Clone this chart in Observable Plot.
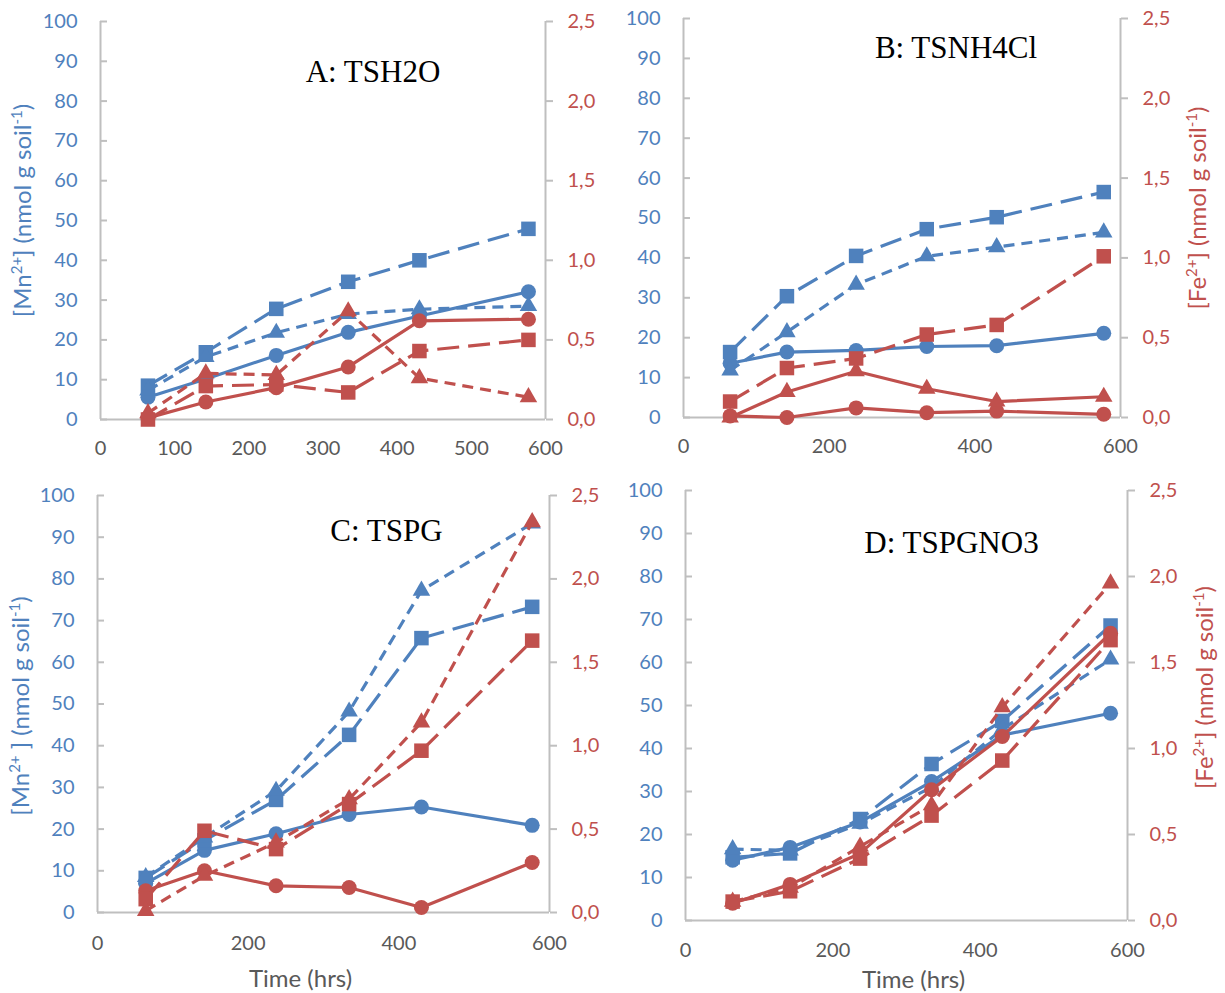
<!DOCTYPE html>
<html>
<head>
<meta charset="utf-8">
<script src="https://cdn.jsdelivr.net/npm/d3@7"></script>
<script src="https://cdn.jsdelivr.net/npm/@observablehq/plot@0.6"></script>
<style>
  html, body { margin: 0; padding: 0; background: #fff; }
  #wrap { position: relative; width: 1225px; height: 993px; overflow: hidden; background: #fff; }
  .pane { position: absolute; }
</style>
</head>
<body>
<div id="wrap"></div>
<script>
// ---------------- data ----------------
const hours = [64, 142, 237, 334, 430, 577];
const titles = ["A: TSH2O", "B: TSNH4Cl", "C: TSPG", "D: TSPGNO3"];
const xTicksA = [0, 100, 200, 300, 400, 500, 600];
const xTicksBCD = [0, 200, 400, 600];
const mnTicks = [0, 10, 20, 30, 40, 50, 60, 70, 80, 90, 100];
const feTicks = [0, 0.5, 1.0, 1.5, 2.0, 2.5];

// Panel A (TSH2O)
const A_mn_circle   = [5.6, 10.2, 16.1, 21.9, 26.0, 32.1];
const A_mn_square   = [8.5, 16.9, 27.8, 34.6, 40.0, 47.9];
const A_mn_triangle = [7.3, 15.7, 21.8, 26.5, 27.7, 28.5];
const A_fe_circle   = [0.01, 0.11, 0.20, 0.33, 0.62, 0.63];
const A_fe_square   = [0.00, 0.21, 0.22, 0.17, 0.43, 0.50];
const A_fe_triangle = [0.04, 0.29, 0.28, 0.68, 0.26, 0.14];

// Panel B (TSNH4Cl)
const B_mn_circle   = [13.6, 16.4, 16.8, 17.8, 18.0, 21.1];
const B_mn_square   = [16.4, 30.4, 40.5, 47.2, 50.2, 56.5];
const B_mn_triangle = [11.8, 21.4, 33.3, 40.4, 42.7, 46.4];
const B_fe_circle   = [0.01, 0.00, 0.06, 0.03, 0.04, 0.02];
const B_fe_square   = [0.10, 0.31, 0.37, 0.52, 0.58, 1.01];
const B_fe_triangle = [0.00, 0.16, 0.29, 0.18, 0.10, 0.13];

// Panel C (TSPG)
const C_mn_circle   = [7.0, 14.9, 18.9, 23.5, 25.3, 20.9];
const C_mn_square   = [8.3, 17.3, 27.0, 42.6, 65.8, 73.3];
const C_mn_triangle = [8.5, 18.0, 29.2, 48.2, 77.2, 93.3];
const C_fe_circle   = [0.13, 0.25, 0.16, 0.15, 0.03, 0.30];
const C_fe_square   = [0.08, 0.49, 0.38, 0.65, 0.97, 1.63];
const C_fe_triangle = [0.01, 0.22, 0.42, 0.68, 1.14, 2.34];

// Panel D (TSPGNO3)
const D_mn_circle   = [14.0, 17.0, 22.9, 32.3, 43.1, 48.2];
const D_mn_square   = [14.7, 15.6, 23.6, 36.4, 46.4, 68.6];
const D_mn_triangle = [16.6, 16.3, 22.5, 31.0, 44.5, 60.7];
const D_fe_circle   = [0.10, 0.21, 0.39, 0.76, 1.07, 1.67];
const D_fe_square   = [0.11, 0.17, 0.36, 0.61, 0.93, 1.63];
const D_fe_triangle = [0.11, 0.19, 0.43, 0.67, 1.24, 1.96];

const mnLabel = "[Mn^{2+}] (nmol g soil^{-1})";
const mnLabelC = "[Mn^{2+} ] (nmol g soil^{-1})";
const feLabel = "[Fe^{2+}] (nmol g soil^{-1})";
const timeLabel = "Time (hrs)";

// ---------------- styling ----------------
const BLUE = "#4F81BD", RED = "#C0504D", GREY = "#BFBFBF", TXT = "#595959";
const FE_K = 40; // secondary axis: 2.5 Fe  <->  100 Mn
const SANS = "Lato, 'Open Sans', sans-serif";
const DASHES = { solid: null, long: "22,9", short: "11,7" };
const RADIUS = { circle: 7.5, square: 8.2, triangle: 6.5 };

function series(values, k, color, symbol, dash) {
  const rows = hours.map((h, i) => ({ h, v: values[i] * k }));
  return [
    Plot.line(rows, { x: "h", y: "v", stroke: color, strokeWidth: 3.2,
      strokeDasharray: DASHES[dash], strokeLinecap: "butt", strokeLinejoin: "round" }),
    Plot.dot(rows, { x: "h", y: "v", fill: color, stroke: "none", symbol, r: RADIUS[symbol] })
  ];
}

function panel(cfg) {
  const feTriDash = cfg.feTriDash || "short";
  const marks = [
    Plot.ruleX([0], { stroke: GREY, strokeWidth: 2 }),
    Plot.ruleX([600], { stroke: GREY, strokeWidth: 2 }),
    Plot.ruleY([0], { stroke: GREY, strokeWidth: 2 }),
    Plot.axisY({ anchor: "left", ticks: mnTicks, tickSize: -7, tickPadding: 30,
      stroke: GREY, strokeWidth: 2, fill: BLUE, fontSize: 20, label: null }),
    Plot.axisY({ anchor: "right", ticks: feTicks.map(v => v * FE_K), tickSize: 7, tickPadding: 15,
      tickFormat: d => (d / FE_K).toFixed(1).replace(".", ","),
      stroke: GREY, strokeWidth: 2, fill: RED, fontSize: 20, label: null }),
    Plot.axisX({ ticks: cfg.xTicks, tickSize: 0, tickPadding: cfg.xPad,
      fill: TXT, fontSize: 20, label: null }),
    ...series(cfg.mn[0], 1, BLUE, "circle", "solid"),
    ...series(cfg.mn[1], 1, BLUE, "square", "long"),
    ...series(cfg.mn[2], 1, BLUE, "triangle", "short"),
    ...series(cfg.fe[0], FE_K, RED, "circle", "solid"),
    ...series(cfg.fe[1], FE_K, RED, "square", "long"),
    ...series(cfg.fe[2], FE_K, RED, "triangle", feTriDash),
    Plot.text([cfg.title], { frameAnchor: "top", dx: cfg.tdx, dy: cfg.tdy,
      textAnchor: "middle", lineAnchor: "middle",
      fontFamily: "'Liberation Serif', 'Times New Roman', serif", fontSize: 31, fill: "#000" })
  ];
  if (cfg.left) marks.push(Plot.text([cfg.left.text], { frameAnchor: "left", dx: cfg.left.dx, dy: cfg.left.dy,
      rotate: -90, textAnchor: "middle", lineAnchor: "middle", fill: BLUE, fontSize: 24 }));
  if (cfg.right) marks.push(Plot.text([cfg.right.text], { frameAnchor: "right", dx: cfg.right.dx, dy: cfg.right.dy,
      rotate: -90, textAnchor: "middle", lineAnchor: "middle", fill: RED, fontSize: 24 }));
  if (cfg.time) marks.push(Plot.text([timeLabel], { frameAnchor: "bottom", dx: cfg.time.dx, dy: cfg.time.dy,
      textAnchor: "middle", lineAnchor: "middle", fill: TXT, fontSize: 24 }));

  const svg = Plot.plot({
    width: cfg.w, height: cfg.h,
    marginLeft: cfg.mL, marginRight: cfg.mR, marginTop: cfg.mT, marginBottom: cfg.mB,
    style: { fontFamily: SANS, fontSize: "20px", background: "transparent", overflow: "visible" },
    x: { domain: [0, 600] },
    y: { domain: [0, 100] },
    marks
  });
  richText(svg);
  const div = document.createElement("div");
  div.className = "pane";
  div.style.left = cfg.left0 + "px";
  div.style.top = cfg.top0 + "px";
  div.appendChild(svg);
  document.getElementById("wrap").appendChild(div);
}

// turn "^{...}" markup into superscript tspans
function richText(svg) {
  svg.querySelectorAll("text").forEach(t => {
    const s = t.textContent;
    if (!s.includes("^{")) return;
    const parts = s.split(/\^\{([^}]*)\}/);
    t.textContent = "";
    let raised = false;
    parts.forEach((p, i) => {
      if (p === "") { return; }
      const ts = document.createElementNS("http://www.w3.org/2000/svg", "tspan");
      ts.textContent = p;
      if (i % 2 === 1) {
        ts.setAttribute("font-size", "15");
        ts.setAttribute("dy", "-9");
        raised = true;
      } else if (raised) {
        ts.setAttribute("dy", "9");
        raised = false;
      }
      t.appendChild(ts);
    });
  });
}

panel({ title: titles[0], left0: 0, top0: 0, w: 610, h: 470, mL: 100, mR: 65, mT: 21, mB: 51,
  xTicks: xTicksA, xPad: 21, tdx: 50, tdy: 51,
  mn: [A_mn_circle, A_mn_square, A_mn_triangle], fe: [A_fe_circle, A_fe_square, A_fe_triangle],
  left: { text: mnLabel, dx: -77, dy: -10 } });

panel({ title: titles[1], left0: 610, top0: 0, w: 615, h: 470, mL: 73, mR: 105, mT: 18, mB: 53,
  xTicks: xTicksBCD, xPad: 21, tdx: 54, tdy: 30, feTriDash: "solid",
  mn: [B_mn_circle, B_mn_square, B_mn_triangle], fe: [B_fe_circle, B_fe_square, B_fe_triangle],
  right: { text: feLabel, dx: 78, dy: -10 } });

panel({ title: titles[2], left0: 0, top0: 470, w: 610, h: 523, mL: 97, mR: 61, mT: 25, mB: 81,
  xTicks: xTicksBCD, xPad: 23, tdx: 63, tdy: 36,
  mn: [C_mn_circle, C_mn_square, C_mn_triangle], fe: [C_fe_circle, C_fe_square, C_fe_triangle],
  left: { text: mnLabelC, dx: -76, dy: 2 }, time: { dx: -23, dy: 67 } });

panel({ title: titles[3], left0: 610, top0: 470, w: 615, h: 523, mL: 75, mR: 98, mT: 20, mB: 73,
  xTicks: xTicksBCD, xPad: 22, tdx: 45, tdy: 53,
  mn: [D_mn_circle, D_mn_square, D_mn_triangle], fe: [D_fe_circle, D_fe_square, D_fe_triangle],
  right: { text: feLabel, dx: 78, dy: -18 }, time: { dx: 7, dy: 60 } });
</script>
</body>
</html>
